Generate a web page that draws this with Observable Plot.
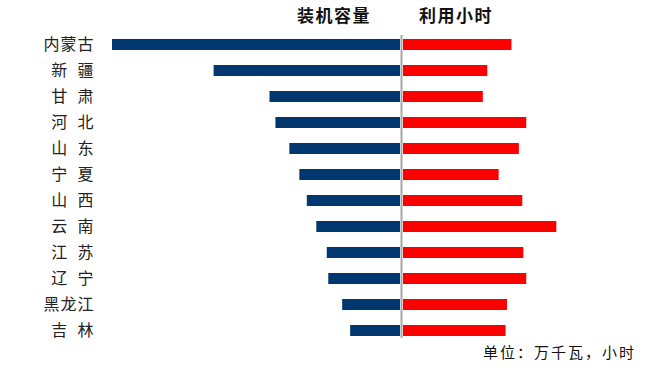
<!DOCTYPE html>
<html><head><meta charset="utf-8">
<script src="https://cdn.jsdelivr.net/npm/d3@7"></script>
<script src="https://cdn.jsdelivr.net/npm/@observablehq/plot@0.6"></script>
<style>
body{margin:0;background:#fff;font-family:"Noto Sans CJK SC",sans-serif;}
#wrap{position:relative;width:652px;height:375px;overflow:hidden;}
#plots{display:flex;position:absolute;left:0;top:0;}
.hdr{position:absolute;font-weight:bold;font-size:17px;letter-spacing:1.5px;color:#111;line-height:1;white-space:nowrap;}
#cap{position:absolute;font-size:15px;letter-spacing:2px;color:#111;line-height:1;white-space:nowrap;}
svg text{white-space:pre;}
</style></head>
<body>
<div id="wrap"><div id="plots"></div>
<div class="hdr" id="h1">装机容量</div>
<div class="hdr" id="h2">利用小时</div>
<div id="cap">单位：万千瓦，小时</div>
</div>
<script>
const provinces = ["内蒙古","新  疆","甘  肃","河  北","山  东","宁  夏","山  西","云  南","江  苏","辽  宁","黑龙江","吉  林"];
const capacity = [2670,1728,1210,1155,1026,933,864,776,679,665,536,462];
const hours = [1576,1228,1164,1789,1683,1392,1732,2222,1747,1789,1512,1491];
const leftTitle = "装机容量";
const rightTitle = "利用小时";

const data = provinces.map((p,i)=>({p, cap:capacity[i], hrs:hours[i]}));
const H = 375, mTop = 31.5, mBottom = 30.7;
const yOpts = {domain: provinces, paddingInner: 0.56, paddingOuter: 0.28, align: 0.5};
const font = '"Noto Sans CJK SC", sans-serif';

const left = Plot.plot({
  width: 400, height: H, marginLeft: 105, marginRight: 0, marginTop: mTop, marginBottom: mBottom,
  style: {fontFamily: font, background: "transparent", overflow: "visible"},
  x: {domain: [0, 2735], reverse: true, axis: null},
  y: {...yOpts, label: null, tickSize: 0, tickPadding: 11, fontSize: 16},
  marks: [
    Plot.axisY({tickSize: 0, tickPadding: 11, fontSize: 16, label: null, fill: "#222", anchor: "left"}),
    Plot.barX(data, {x: "cap", y: "p", fill: "#00376f"})
  ]
});
const right = Plot.plot({
  width: 252, height: H, marginLeft: 2, marginRight: 0, marginTop: mTop, marginBottom: mBottom,
  style: {fontFamily: font, background: "transparent", overflow: "visible"},
  x: {domain: [0, 3600], axis: null},
  y: {...yOpts, axis: null},
  marks: [
    Plot.barX(data, {x: "hrs", y: "p", fill: "#ff0000", insetLeft: 1}),
    Plot.ruleX([0], {stroke: "#a6a6a6", strokeWidth: 2, dx: -1, insetTop: 3.5, insetBottom: 6.3})
  ]
});
document.getElementById("plots").append(left, right);
left.querySelectorAll("text").forEach(t=>t.setAttribute("letter-spacing","1"));
const h1 = document.getElementById("h1"), h2 = document.getElementById("h2"), cap = document.getElementById("cap");
h1.textContent = leftTitle; h2.textContent = rightTitle;
h1.style.left = "297px"; h1.style.top = "6px";
h2.style.left = "419px"; h2.style.top = "6px";
cap.style.left = "483px"; cap.style.top = "344px";
</script>
</body></html>
